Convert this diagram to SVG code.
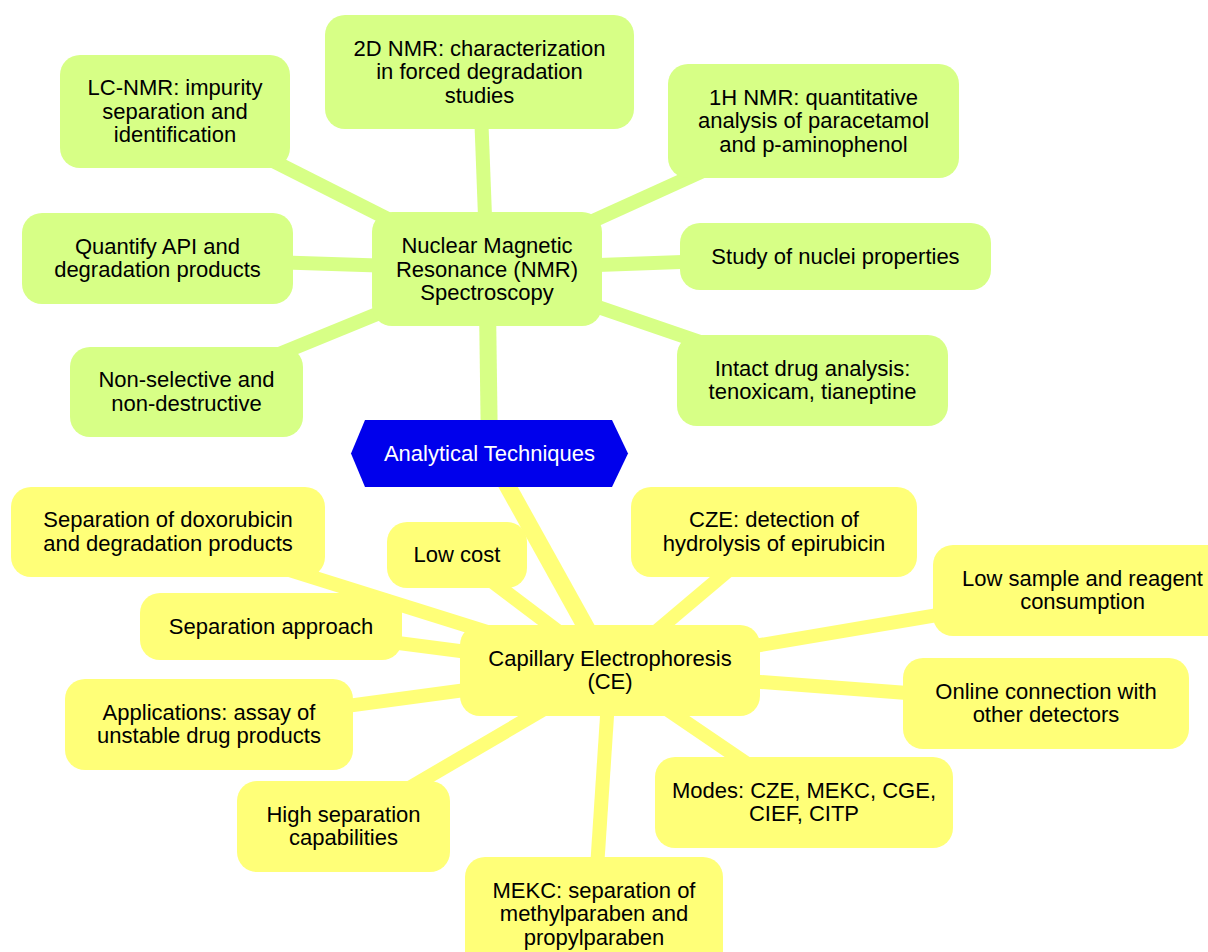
<svg xmlns="http://www.w3.org/2000/svg" width="1208" height="952" viewBox="0 0 1208 952">
<style>
  text { font-family: "Liberation Sans", Arial, sans-serif; font-size: 22px; text-anchor: middle; fill: #000; }
  .root text { fill: #fff; }
  .e0 { stroke-width: 17; fill: none; }
  .e1 { stroke-width: 14; fill: none; }
  .nmr { stroke: #d7ff86; }
  .ce { stroke: #ffff78; }
  .nmrn rect { fill: #d7ff86; }
  .cen rect { fill: #ffff78; }
</style>
<rect width="1208" height="952" fill="#fff"/>
<g id="connectors">
  <line class="e0 nmr" x1="489.5" y1="453.5" x2="487" y2="269"/>
  <line class="e0 ce" x1="489.5" y1="453.5" x2="610" y2="670.5"/>
  <line class="e1 nmr" x1="487" y1="269" x2="175" y2="111.5"/>
  <line class="e1 nmr" x1="487" y1="269" x2="479.5" y2="72"/>
  <line class="e1 nmr" x1="487" y1="269" x2="813.5" y2="121"/>
  <line class="e1 nmr" x1="487" y1="269" x2="835.5" y2="256.5"/>
  <line class="e1 nmr" x1="487" y1="269" x2="812.5" y2="380.5"/>
  <line class="e1 nmr" x1="487" y1="269" x2="157.5" y2="258.5"/>
  <line class="e1 nmr" x1="487" y1="269" x2="186.5" y2="392"/>
  <line class="e1 ce" x1="610" y1="670.5" x2="168" y2="532"/>
  <line class="e1 ce" x1="610" y1="670.5" x2="457" y2="555"/>
  <line class="e1 ce" x1="610" y1="670.5" x2="774" y2="532"/>
  <line class="e1 ce" x1="610" y1="670.5" x2="1082.5" y2="590.5"/>
  <line class="e1 ce" x1="610" y1="670.5" x2="271" y2="626.5"/>
  <line class="e1 ce" x1="610" y1="670.5" x2="1046" y2="703.5"/>
  <line class="e1 ce" x1="610" y1="670.5" x2="209" y2="724.5"/>
  <line class="e1 ce" x1="610" y1="670.5" x2="804" y2="802.5"/>
  <line class="e1 ce" x1="610" y1="670.5" x2="343.5" y2="826.5"/>
  <line class="e1 ce" x1="610" y1="670.5" x2="594" y2="914"/>
</g>
<g id="root" class="root">
  <polygon points="365,420 612,420 628,453.5 612,487 365,487 351,453.5" fill="#0000ec"/>
  <text x="489.5" y="461">Analytical Techniques</text>
</g>
<g id="nmr" class="nmrn">
  <rect x="372" y="212" width="230" height="114" rx="20"/>
  <text x="487" y="253">Nuclear Magnetic</text>
  <text x="487" y="276.5">Resonance (NMR)</text>
  <text x="487" y="300">Spectroscopy</text>
</g>
<g id="lcnmr" class="nmrn">
  <rect x="60" y="55" width="230" height="113" rx="20"/>
  <text x="175" y="95">LC-NMR: impurity</text>
  <text x="175" y="118.5">separation and</text>
  <text x="175" y="142">identification</text>
</g>
<g id="nmr2d" class="nmrn">
  <rect x="325" y="15" width="309" height="114" rx="20"/>
  <text x="479.5" y="55.5">2D NMR: characterization</text>
  <text x="479.5" y="79">in forced degradation</text>
  <text x="479.5" y="102.5">studies</text>
</g>
<g id="nmr1h" class="nmrn">
  <rect x="668" y="64" width="291" height="114" rx="20"/>
  <text x="813.5" y="104.5">1H NMR: quantitative</text>
  <text x="813.5" y="128">analysis of paracetamol</text>
  <text x="813.5" y="151.5">and p-aminophenol</text>
</g>
<g id="study" class="nmrn">
  <rect x="680" y="223" width="311" height="67" rx="20"/>
  <text x="835.5" y="263.5">Study of nuclei properties</text>
</g>
<g id="intact" class="nmrn">
  <rect x="677" y="335" width="271" height="91" rx="20"/>
  <text x="812.5" y="375.5">Intact drug analysis:</text>
  <text x="812.5" y="399">tenoxicam, tianeptine</text>
</g>
<g id="quantify" class="nmrn">
  <rect x="22" y="213" width="271" height="91" rx="20"/>
  <text x="157.5" y="253.5">Quantify API and</text>
  <text x="157.5" y="277">degradation products</text>
</g>
<g id="nonsel" class="nmrn">
  <rect x="70" y="347" width="233" height="90" rx="20"/>
  <text x="186.5" y="387">Non-selective and</text>
  <text x="186.5" y="410.5">non-destructive</text>
</g>
<g id="ce" class="cen">
  <rect x="460" y="625" width="300" height="91" rx="20"/>
  <text x="610" y="665.5">Capillary Electrophoresis</text>
  <text x="610" y="689">(CE)</text>
</g>
<g id="sepdox" class="cen">
  <rect x="11" y="487" width="314" height="90" rx="20"/>
  <text x="168" y="527">Separation of doxorubicin</text>
  <text x="168" y="550.5">and degradation products</text>
</g>
<g id="lowcost" class="cen">
  <rect x="387" y="522" width="140" height="66" rx="20"/>
  <text x="457" y="562">Low cost</text>
</g>
<g id="cze" class="cen">
  <rect x="631" y="487" width="286" height="90" rx="20"/>
  <text x="774" y="527">CZE: detection of</text>
  <text x="774" y="550.5">hydrolysis of epirubicin</text>
</g>
<g id="lowsample" class="cen">
  <rect x="933" y="545" width="299" height="91" rx="20"/>
  <text x="1082.5" y="585.5">Low sample and reagent</text>
  <text x="1082.5" y="609">consumption</text>
</g>
<g id="sepapp" class="cen">
  <rect x="140" y="593" width="262" height="67" rx="20"/>
  <text x="271" y="633.5">Separation approach</text>
</g>
<g id="online" class="cen">
  <rect x="903" y="658" width="286" height="91" rx="20"/>
  <text x="1046" y="698.5">Online connection with</text>
  <text x="1046" y="722">other detectors</text>
</g>
<g id="apps" class="cen">
  <rect x="65" y="679" width="288" height="91" rx="20"/>
  <text x="209" y="719.5">Applications: assay of</text>
  <text x="209" y="743">unstable drug products</text>
</g>
<g id="modes" class="cen">
  <rect x="655" y="757" width="298" height="91" rx="20"/>
  <text x="804" y="797.5">Modes: CZE, MEKC, CGE,</text>
  <text x="804" y="821">CIEF, CITP</text>
</g>
<g id="highsep" class="cen">
  <rect x="237" y="781" width="213" height="91" rx="20"/>
  <text x="343.5" y="821.5">High separation</text>
  <text x="343.5" y="845">capabilities</text>
</g>
<g id="mekc" class="cen">
  <rect x="465" y="857" width="258" height="114" rx="20"/>
  <text x="594" y="897.5">MEKC: separation of</text>
  <text x="594" y="921">methylparaben and</text>
  <text x="594" y="944.5">propylparaben</text>
</g>
</svg>
